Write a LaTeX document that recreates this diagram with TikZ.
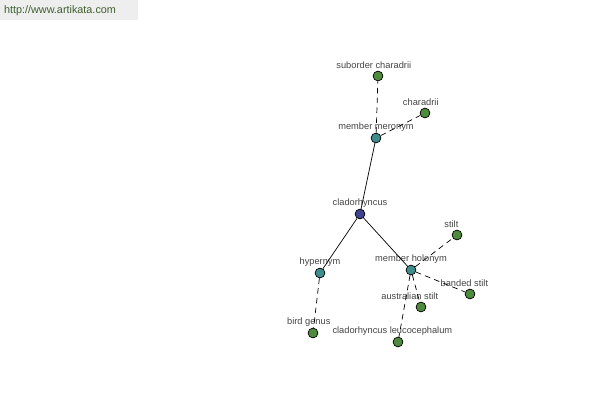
\documentclass[tikz,border=0pt]{standalone}
\usepackage{fontspec}
\setmainfont{Liberation Sans}
\definecolor{leafgreen}{HTML}{4E8B3E}
\definecolor{reltealc}{HTML}{3F8C8C}
\definecolor{rootblue}{HTML}{3E4490}
\definecolor{bannergray}{HTML}{EEEEEE}
\definecolor{bannertext}{HTML}{3F5F2F}
\definecolor{txtgray}{HTML}{444444}
\tikzset{
  wnode/.style={circle, draw=black, line width=0.5pt, minimum size=7pt, inner sep=0pt},
  leaf/.style={wnode, fill=leafgreen},
  rel/.style={wnode, fill=reltealc},
  root/.style={wnode, fill=rootblue},
  lbl/.style={font=\fontsize{6.6}{7}\selectfont, text=txtgray, inner sep=1pt},
  solidedge/.style={line width=0.5pt},
  dashedge/.style={line width=0.5pt, dash pattern=on 4pt off 3pt}
}
\begin{document}
\begin{tikzpicture}[x=0.025cm, y=-0.025cm]
\useasboundingbox (0,0) rectangle (600,400);
% Banner
\fill[bannergray] (0,0) rectangle (138,20);
\node[lbl, font=\fontsize{7.7}{8}\selectfont, text=bannertext] (site) at (60,11) {http://www.artikata.com};

% Word nodes
\node[root, label={[lbl]above:cladorhyncus}] (clado) at (360,214) {};
\node[rel, label={[lbl]above:member meronym}] (meronym) at (376,138) {};
\node[rel, label={[lbl]above:hypernym}] (hypernym) at (320,273) {};
\node[rel, label={[lbl]above:member holonym}] (holonym) at (411,270) {};
\node[leaf, label={[lbl,xshift=-3pt]above:suborder charadrii}] (suborder) at (378,76) {};
\node[leaf, label={[lbl,xshift=-3pt]above:charadrii}] (charadrii) at (425,113) {};
\node[leaf, label={[lbl,xshift=-3pt]above:bird genus}] (birdgenus) at (313,333) {};
\node[leaf, label={[lbl,xshift=-4pt]above:stilt}] (stilt) at (457,235) {};
\node[leaf, label={[lbl,xshift=-4pt]above:banded stilt}] (banded) at (470,294) {};
\node[leaf, label={[lbl,xshift=-8pt]above:australian stilt}] (austr) at (421,307) {};
\node[leaf, label={[lbl,xshift=-4pt]above:cladorhyncus leucocephalum}] (leuco) at (398,342) {};

% Relations
\draw[solidedge] (clado) -- (meronym);
\draw[solidedge] (clado) -- (hypernym);
\draw[solidedge] (clado) -- (holonym);
\draw[dashedge] (meronym) -- (suborder);
\draw[dashedge] (meronym) -- (charadrii);
\draw[dashedge] (hypernym) -- (birdgenus);
\draw[dashedge] (holonym) -- (stilt);
\draw[dashedge] (holonym) -- (banded);
\draw[dashedge] (holonym) -- (austr);
\draw[dashedge] (holonym) -- (leuco);
\end{tikzpicture}
\end{document}
